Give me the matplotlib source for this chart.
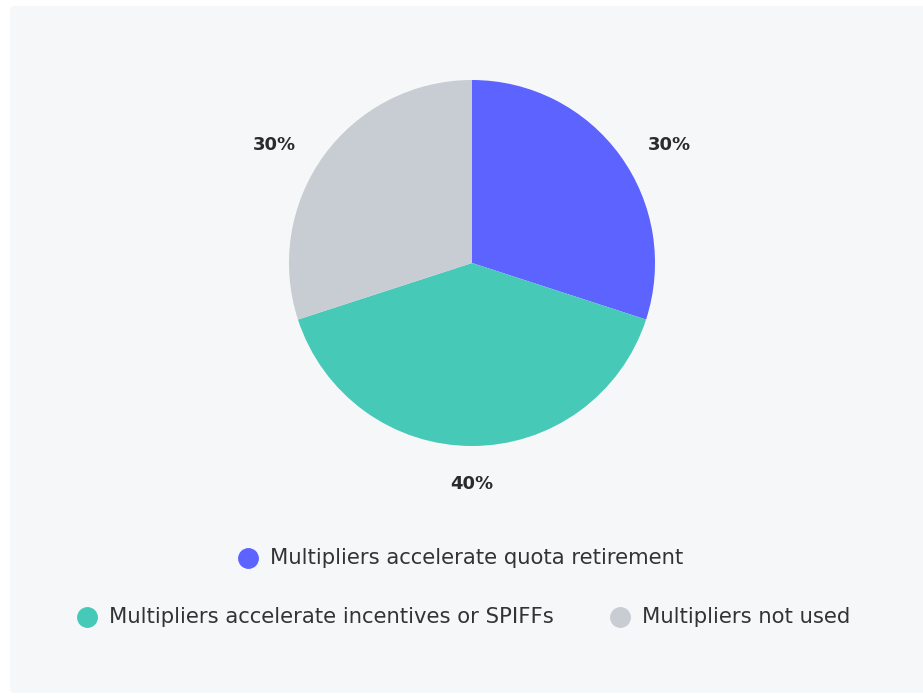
import matplotlib.pyplot as plt
from matplotlib.patches import FancyBboxPatch
from matplotlib.lines import Line2D

labels = ['Multipliers accelerate quota retirement',
          'Multipliers accelerate incentives or SPIFFs',
          'Multipliers not used']
values = [30, 40, 30]
colors = ['#5c63ff', '#47c9b8', '#c8cdd3']

W, H = 923, 698
fig = plt.figure(figsize=(W / 100, H / 100), dpi=100)
fig.patch.set_facecolor('white')

# panel background
panel = FancyBboxPatch((10 / W, 5 / H), (W + 20 - 10) / W, (H - 5 - 6) / H,
                       boxstyle='round,pad=0,rounding_size=0.006',
                       transform=fig.transFigure, facecolor='#f6f7f9',
                       edgecolor='none', zorder=-5)
fig.patches.append(panel)

# pie: center (472, 263) px, radius ~183 px
cx, cy, r = 472, 263, 183
ax = fig.add_axes([(cx - r) / W, (H - cy - r) / H, 2 * r / W, 2 * r / H])
ax.set_zorder(2)
ax.patch.set_alpha(0)
wedges, texts, autotexts = ax.pie(values, colors=colors, startangle=90, counterclock=False,
                                  autopct='%d%%', pctdistance=1.21, radius=1,
                                  wedgeprops=dict(linewidth=0))
for t in autotexts:
    t.set_fontsize(13)
    t.set_fontweight('bold')
    t.set_color('#2b2b2b')
    t.set_fontfamily('DejaVu Sans')
    # labels sit a bit further out horizontally, like a leader-line layout
    x, y = t.get_position()
    if abs(x) > 0.1:
        t.set_position((x + 0.1 * (1 if x > 0 else -1), y - 0.065))
ax.set_xlim(-1, 1)
ax.set_ylim(-1, 1)
ax.set_aspect('equal')
ax.axis('off')

# legend rows
legend_pos = [(248, 558), (87, 617), (620, 617)]
for (x, y), lab, col in zip(legend_pos, labels, colors):
    fig.add_artist(Line2D([x / W], [(H - y) / H], marker='o', markersize=14,
                          color=col, linestyle='none', transform=fig.transFigure))
    fig.text((x + 22) / W, (H - y) / H, lab, fontsize=15.2, color='#333333',
             va='center', ha='left', fontfamily='DejaVu Sans')

fig.savefig('out.png', dpi=100, facecolor='white')
